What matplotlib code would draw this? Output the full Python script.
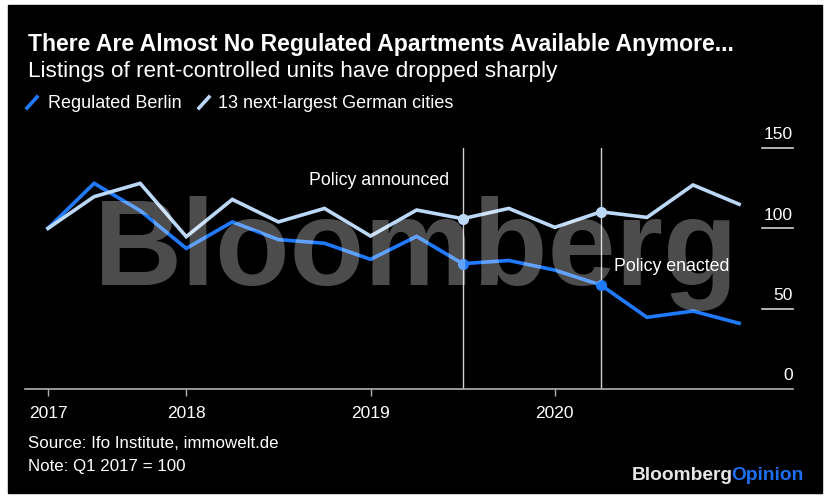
import numpy as np
import matplotlib
matplotlib.use("Agg")
import matplotlib.pyplot as plt
from matplotlib.patches import Rectangle

# Quarterly listings index, Q1 2017 = 100
quarters = ["Q1 2017", "Q2 2017", "Q3 2017", "Q4 2017",
            "Q1 2018", "Q2 2018", "Q3 2018", "Q4 2018",
            "Q1 2019", "Q2 2019", "Q3 2019", "Q4 2019",
            "Q1 2020", "Q2 2020", "Q3 2020", "Q4 2020"]
berlin = [100, 128, 111, 87.5, 104, 93, 90.7, 80.7,
          95, 78, 80, 74, 64.7, 44.6, 48.5, 40.9]
cities = [100, 119.7, 128, 94.8, 118, 104, 112.4, 95.2,
          111.4, 106, 112.4, 100.6, 110.3, 106.8, 127, 115]

year_ticks = [0, 3, 7, 11]
year_labels = ["2017", "2018", "2019", "2020"]
y_ticks = [0, 50, 100, 150]

announced = 9   # Q2 2019
enacted = 12    # Q1 2020

W, H = 829, 499
BERLIN_C = "#1f7aff"
CITIES_C = "#bcd8f7"
FONT = "Liberation Sans"

plt.rcParams['font.family'] = [FONT, 'DejaVu Sans']

fig = plt.figure(figsize=(W / 100, H / 100), dpi=100, facecolor="white")
fig.patches.append(Rectangle((8 / W, 6 / H), 814 / W, 488 / H,
                             transform=fig.transFigure, color="black", zorder=-5))

def fx(px):
    return px / W

def fy(py):
    return 1 - py / H

ax = fig.add_axes([fx(25), fy(389), (793 - 25) / W, (389 - 148) / H])
ax.set_zorder(1)
ax.set_facecolor("none")
x = np.arange(len(quarters))

ax.plot(x, berlin, color=BERLIN_C, lw=2.6, zorder=3, solid_joinstyle="miter")
ax.plot(x, cities, color=CITIES_C, lw=2.6, zorder=3, solid_joinstyle="miter")
for q in (announced, enacted):
    ax.axvline(q, color="#cfcfcf", lw=1.0, zorder=2)
    ax.plot(q, berlin[q], "o", color=BERLIN_C, ms=7, zorder=4)
    ax.plot(q, cities[q], "o", color=CITIES_C, ms=7, zorder=4)

ax.set_xlim(-0.5, 16.17)
ax.set_ylim(0, 150)
for s in ("top", "left", "right"):
    ax.spines[s].set_visible(False)
ax.spines["bottom"].set_color("#b0b0b0")
ax.spines["bottom"].set_linewidth(1.2)
ax.set_xticks(year_ticks, year_labels)
ax.tick_params(axis="x", colors="#b0b0b0", length=5, width=1, pad=7,
               labelcolor="white", labelsize=12.5)
ax.set_yticks([])

# right-hand value scale: short rules with labels above
for v in y_ticks:
    if v > 0:
        ax.axhline(v, xmin=(762 - 25) / 768, xmax=1.0, color="#d0d0d0", lw=1.2,
                   clip_on=False)
    ax.text(1.0, v + 3.5, str(v), transform=ax.get_yaxis_transform(),
            ha="right", va="bottom", color="white", fontsize=12.5, clip_on=False)

ax.text(announced - 0.3, 130, "Policy announced", ha="right", va="center",
        color="white", fontsize=12.8, zorder=6)
ax.text(enacted + 0.28, 76, "Policy enacted", ha="left", va="center",
        color="white", fontsize=12.8, zorder=6)

# watermark
fig.text(fx(94), fy(285), "Bloomberg", fontsize=88, fontweight="bold",
         color="white", alpha=0.3, ha="left", va="baseline", zorder=10)

# titles
fig.text(fx(28), fy(45), "There Are Almost No Regulated Apartments Available Anymore...",
         fontsize=16.6, fontweight="bold", color="white", ha="left", va="center")
fig.text(fx(28), fy(72), "Listings of rent-controlled units have dropped sharply",
         fontsize=16.2, color="white", ha="left", va="center")

# legend
for (x0, x1), c, lab, tx in (((27, 37), BERLIN_C, "Regulated Berlin", 48),
                              ((199, 209), CITIES_C, "13 next-largest German cities", 218)):
    fig.lines.append(plt.Line2D([fx(x0), fx(x1)], [fy(108), fy(97)], color=c, lw=2.6,
                                transform=fig.transFigure))
    fig.text(fx(tx), fy(103), lab, fontsize=13, color="white", ha="left", va="center")

# footer
fig.text(fx(28), fy(444), "Source: Ifo Institute, immowelt.de", fontsize=12.2,
         color="white", ha="left", va="center")
fig.text(fx(28), fy(466), "Note: Q1 2017 = 100", fontsize=12.2,
         color="white", ha="left", va="center")

op = fig.text(fx(804), fy(475), "Opinion", fontsize=13.8, fontweight="bold",
              color="#1e6ff0", ha="right", va="center")
fig.canvas.draw()
bb = op.get_window_extent()
fig.text((bb.x0 + 1) / W, fy(475), "Bloomberg", fontsize=13.8, fontweight="bold",
         color="#e6e6e6", ha="right", va="center")

fig.savefig("out.png", dpi=100, facecolor="white")
